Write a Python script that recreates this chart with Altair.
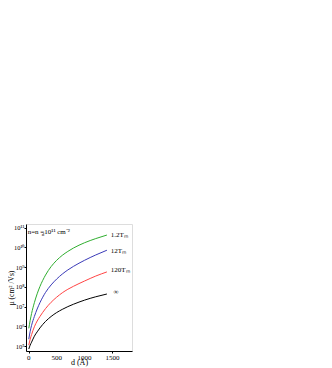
import altair as alt
import pandas as pd

d = [0, 25, 50, 100, 150, 200, 300, 400, 500, 600, 700, 800, 1000, 1200, 1400]
log_green = [5.9, 6.3, 6.65, 7.2, 7.65, 8.02, 8.6, 9.03, 9.35, 9.6, 9.8, 9.97, 10.24, 10.45, 10.63]
log_blue = [5.35, 5.75, 6.05, 6.5, 6.88, 7.2, 7.72, 8.1, 8.4, 8.65, 8.86, 9.04, 9.35, 9.62, 9.86]
log_red = [5.05, 5.35, 5.58, 5.98, 6.27, 6.5, 6.9, 7.22, 7.48, 7.7, 7.88, 8.03, 8.3, 8.55, 8.76]
log_black = [4.85, 5.05, 5.2, 5.5, 5.72, 5.92, 6.25, 6.5, 6.7, 6.86, 7.0, 7.12, 7.33, 7.5, 7.64]

series_names = ["1.2Tm", "12Tm", "120Tm", "inf"]
series_labels = ["1.2T\u2098", "12T\u2098", "120T\u2098", "\u221e"]
series_colors = ["#2fae2f", "#3a3ab8", "#ff4444", "#000000"]
label_d = [1470, 1470, 1470, 1520]
label_log = [10.63, 9.82, 8.86, 7.74]

x_ticks = [0, 500, 1000, 1500]
x_tick_labels = ["0", "500", "1000", "1500"]
y_ticks = [1e5, 1e6, 1e7, 1e8, 1e9, 1e10, 1e11]

W, H = 106, 127

rows = []
for name, vals in zip(series_names, [log_green, log_blue, log_red, log_black]):
    for xv, lv in zip(d, vals):
        rows.append({"d": xv, "mu": 10 ** lv, "s": name})
df = pd.DataFrame(rows)

lab = pd.DataFrame({
    "d": label_d,
    "mu": [10 ** v for v in label_log],
    "t": series_labels,
})

FONT = "Liberation Serif"
xscale = alt.Scale(domain=[-50, 1850], nice=False, zero=False)
yscale = alt.Scale(type="log", domain=[10 ** 4.75, 10 ** 11.19], nice=False)

sup = "['⁰','¹','²','³','⁴','⁵','⁶','⁷','⁸','⁹','¹⁰','¹¹']"
ylabel_expr = "'10' + " + sup + "[round(log(datum.value)/LN10)]"

lines = alt.Chart(df).mark_line(strokeWidth=1, clip=True, interpolate="monotone").encode(
    x=alt.X("d:Q", scale=xscale,
            axis=alt.Axis(values=x_ticks, labels=False,
                          title="d (Å)", grid=False,
                          titleFont=FONT, titleFontSize=8,
                          titleFontWeight="normal", tickSize=2,
                          titlePadding=5, domainColor="black", tickColor="black",
                          titleColor="black")),
    y=alt.Y("mu:Q", scale=yscale,
            axis=alt.Axis(values=y_ticks, title="μ (cm² /Vs)", grid=False,
                          labelOverlap=False,
                          labelExpr=ylabel_expr, labelFont=FONT, titleFont=FONT,
                          labelFontSize=6.5, titleFontSize=7.5, titleFontWeight="normal",
                          tickSize=2, labelPadding=0, titleX=-11, titleY=H / 2,
                          domainColor="black", tickColor="black",
                          labelColor="black", titleColor="black")),
    color=alt.Color("s:N", scale=alt.Scale(domain=series_names, range=series_colors),
                    legend=None),
)

xlab = alt.Chart(pd.DataFrame({"d": x_ticks, "t": x_tick_labels})).mark_text(
    align="center", baseline="top", font=FONT, fontSize=7, color="black").encode(
    x=alt.X("d:Q", scale=xscale), y=alt.value(H + 3), text="t:N")

labels = alt.Chart(lab).mark_text(align="left", baseline="middle", font=FONT,
                                  fontSize=7, color="black").encode(
    x=alt.X("d:Q", scale=xscale),
    y=alt.Y("mu:Q", scale=yscale),
    text="t:N",
)

note_df = pd.DataFrame({"d": [-20], "mu": [10 ** 10.8], "t": ["n=n  =10¹¹ cm⁻²"]})
note = alt.Chart(note_df).mark_text(align="left", baseline="middle", font=FONT,
                                    fontSize=7, color="black").encode(
    x=alt.X("d:Q", scale=xscale), y=alt.Y("mu:Q", scale=yscale), text="t:N")
note_sub = alt.Chart(pd.DataFrame({"d": [-20], "mu": [10 ** 10.8], "t": ["d"]})).mark_text(
    align="left", baseline="middle", font=FONT, fontSize=5, color="black", dx=14, dy=2).encode(
    x=alt.X("d:Q", scale=xscale), y=alt.Y("mu:Q", scale=yscale), text="t:N")

chart = alt.layer(lines, xlab, labels, note, note_sub).properties(
    width=W, height=H,
    autosize=alt.AutoSizeParams(type="none"),
    padding={"top": 216, "left": 18, "right": 14, "bottom": 18},
).configure_view(stroke="black", strokeWidth=1).configure(background="white")

chart.save("out.html", embed_options={"renderer": "svg", "actions": False})
